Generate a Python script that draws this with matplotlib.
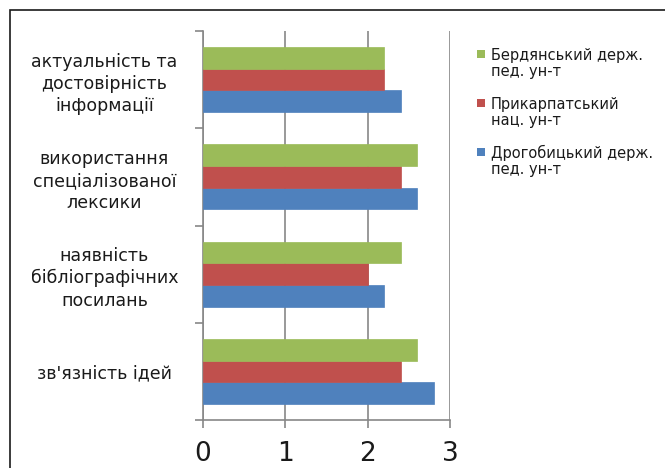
import matplotlib
matplotlib.use("Agg")
import matplotlib.pyplot as plt
from matplotlib.patches import Rectangle
import numpy as np

categories = ["зв'язність ідей",
              "наявність\nбібліографічних\nпосилань",
              "використання\nспеціалізованої\nлексики",
              "актуальність та\nдостовірність\nінформації"]
series_names = ["Дрогобицький держ.\nпед. ун-т",
                "Прикарпатський\nнац. ун-т",
                "Бердянський держ.\nпед. ун-т"]
drohobych = [2.8, 2.2, 2.6, 2.4]
prykarpattia = [2.4, 2.0, 2.4, 2.2]
berdiansk = [2.6, 2.4, 2.6, 2.2]
colors = ["#4F81BD", "#C0504D", "#9BBB59"]
xticks = [0, 1, 2, 3]

plt.rcParams['font.family'] = ['DejaVu Sans']

W, H = 665, 468
fig = plt.figure(figsize=(W/100, H/100), dpi=100)
ax = fig.add_axes([203/W, 1-420/H, (450-203)/W, (420-31)/H])

y = np.arange(len(categories))
h = 0.222
for i, (vals, c, name) in enumerate(zip([drohobych, prykarpattia, berdiansk], colors, series_names)):
    ax.barh(y + (i-1)*h, vals, height=h, color=c, edgecolor=c, linewidth=0.5, label=name, zorder=3)

ax.set_xlim(0, 3)
ax.set_ylim(-0.5, len(categories)-0.5)
ax.set_xticks(xticks)
ax.set_xticklabels([str(t) for t in xticks])
ax.grid(axis='x', color='#878787', linewidth=1.2, zorder=0)
for s in ['top', 'right']:
    ax.spines[s].set_visible(False)
for s in ['left', 'bottom']:
    ax.spines[s].set_color('#878787')
    ax.spines[s].set_linewidth(1.2)
ax.tick_params(axis='x', length=6, width=1.2, color='#878787', labelsize=19, pad=9, labelcolor='#1a1a1a')
ax.set_yticks(np.arange(len(categories)+1) - 0.5)
ax.set_yticklabels([])
ax.tick_params(axis='y', which='major', length=6, width=1.2, color='#878787')
ax.set_yticks(y, minor=True)
ax.set_yticklabels(categories, minor=True, ha='center', multialignment='center', fontsize=12.5, color='#1a1a1a')
ax.tick_params(axis='y', which='minor', length=0, pad=71)
for t in ax.get_yticklabels(minor=True):
    t.set_linespacing(1.3)

# legend drawn manually: reversed order, square aligned with first line
pitch = 49
for k, idx in enumerate(reversed(range(len(series_names)))):
    top = 50 + k*pitch
    fig.patches.append(Rectangle((477/W, 1-(top+8)/H), 8/W, 8/H, transform=fig.transFigure,
                                 facecolor=colors[idx], edgecolor='none'))
    fig.text(491/W, 1-(top+26)/H, series_names[idx], ha='left', va='baseline', fontsize=10.5,
             color='#1a1a1a', linespacing=1.08)

fig.patches.append(Rectangle((10/W, -0.1), 2, (H-10)/H + 0.1,
                             transform=fig.transFigure, fill=False,
                             edgecolor='#1a1a1a', linewidth=1.2))

fig.savefig("out.png", dpi=100)
